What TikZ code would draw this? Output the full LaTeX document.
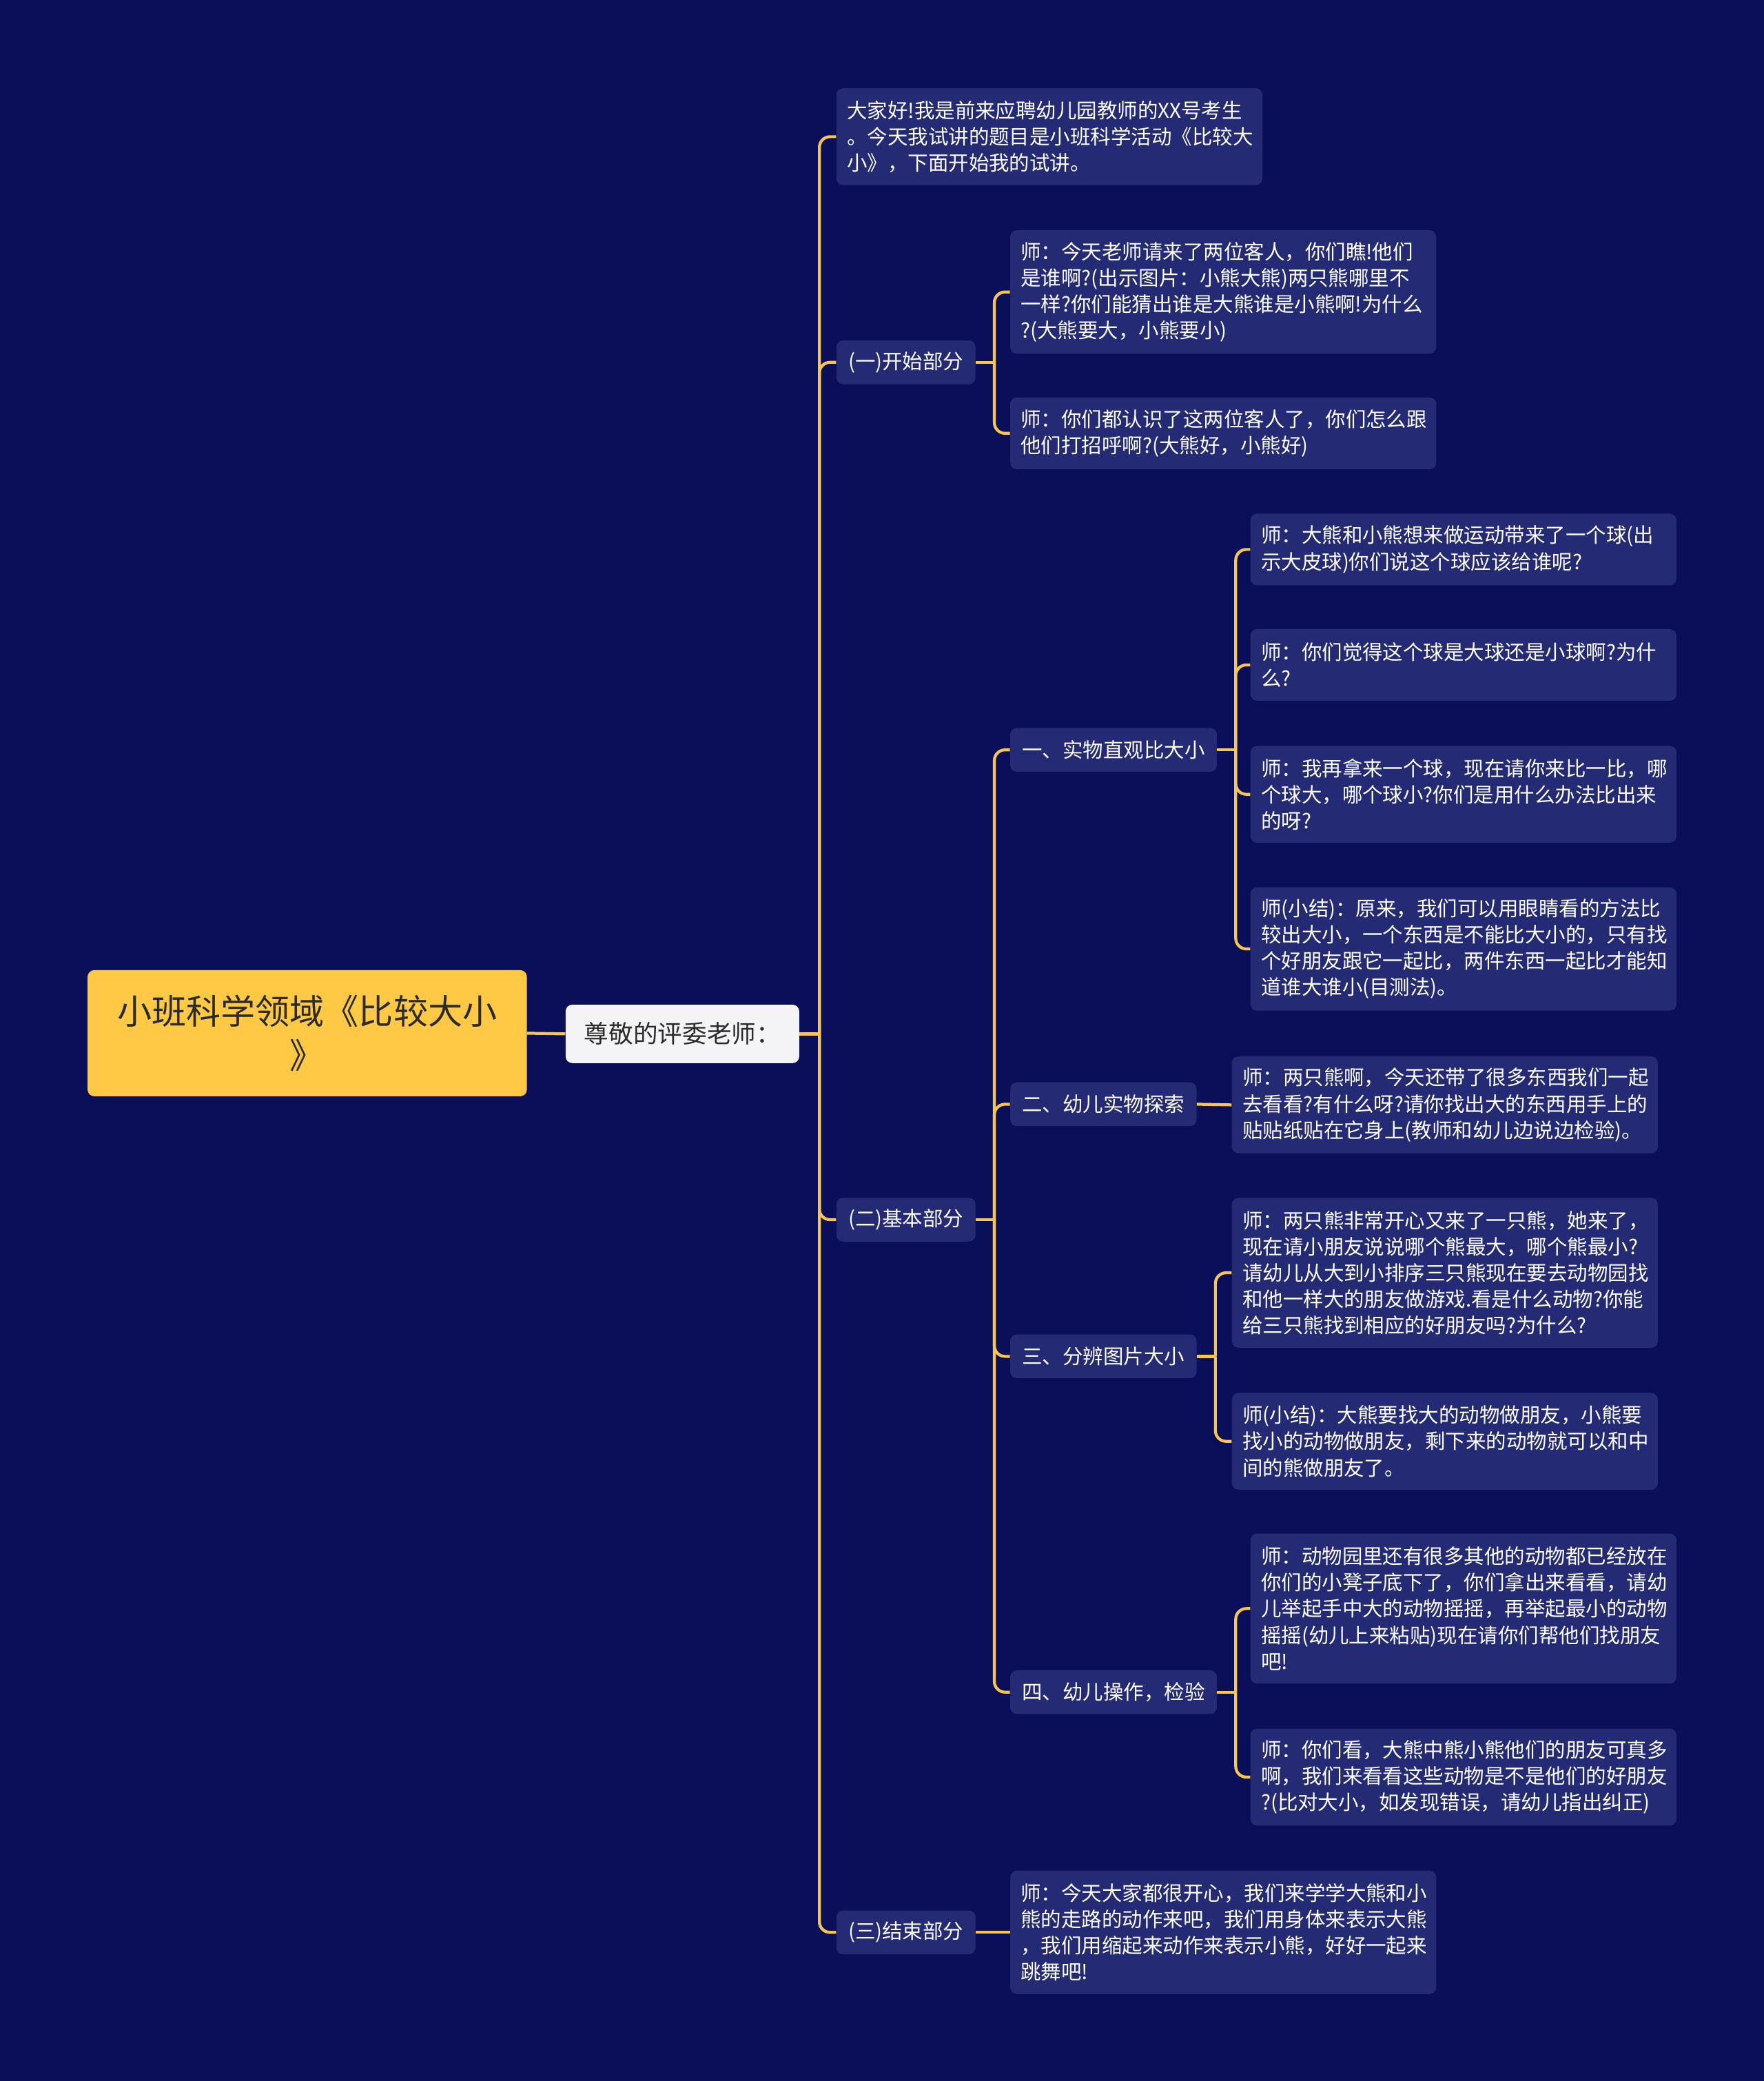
\documentclass[tikz,border=0pt]{standalone}
\usepackage{fontspec}
\setmainfont{Noto Sans CJK SC}
\definecolor{bg}{HTML}{0B0E58}
\definecolor{boxc}{HTML}{242A74}
\definecolor{lnc}{HTML}{F7C652}
\definecolor{rootc}{HTML}{FFC845}
\definecolor{lvc}{HTML}{F4F4F6}
\definecolor{darktext}{HTML}{2B2B2B}
\begin{document}
\begin{tikzpicture}[x=1pt,y=-1pt,
  conn/.style={draw=lnc, line width=2.2pt},
  elbowline/.style={draw=lnc, line width=2.2pt, rounded corners=8pt},
  leaf/.style={fill=boxc, rounded corners=5pt, text=white,
    font=\fontsize{15.3}{19.8}\selectfont, align=left,
    text width=305pt, inner xsep=8pt, inner ysep=0pt, anchor=west},
  lab/.style={fill=boxc, rounded corners=5pt, text=white,
    font=\fontsize{15.3}{20}\selectfont, inner xsep=9pt, inner ysep=0pt,
    minimum height=33pt, anchor=west},
  rootbox/.style={fill=rootc, rounded corners=5pt, text=darktext,
    font=\fontsize{26}{33}\selectfont, align=center,
    minimum width=331pt, minimum height=95pt, inner sep=0pt},
  lv1/.style={fill=lvc, rounded corners=5pt, text=darktext,
    font=\fontsize{18.5}{22}\selectfont, minimum width=176pt,
    minimum height=44pt, inner sep=0pt, anchor=west}
]
\fill[bg] (0,0) rectangle (1329,1568);
\useasboundingbox (0,0) rectangle (1329,1568);

% root and level 1
\node[rootbox] (root) at (231.5,778.5) {小班科学领域《比较大小\\》};
\node[lv1] (l1) at (426,779) {尊敬的评委老师：};

% level 2
\node[leaf, minimum height=73pt] (a) at (630,103) {大家好!我是前来应聘幼儿园教师的XX号考生\\。今天我试讲的题目是小班科学活动《比较大\\小》，下面开始我的试讲。};
\node[lab] (b) at (630,273) {(一)开始部分};
\node[lab] (c) at (630,919) {(二)基本部分};
\node[lab] (d) at (630,1456) {(三)结束部分};

% children of b
\node[leaf, minimum height=93pt] (b1) at (761,220) {师：今天老师请来了两位客人，你们瞧!他们\\是谁啊?(出示图片：小熊大熊)两只熊哪里不\\一样?你们能猜出谁是大熊谁是小熊啊!为什么\\?(大熊要大，小熊要小)};
\node[leaf, minimum height=54pt] (b2) at (761,326.5) {师：你们都认识了这两位客人了，你们怎么跟\\他们打招呼啊?(大熊好，小熊好)};

% children of c
\node[lab] (c1) at (761,565) {一、实物直观比大小};
\node[lab] (c2) at (761,832) {二、幼儿实物探索};
\node[lab] (c3) at (761,1022) {三、分辨图片大小};
\node[lab] (c4) at (761,1275) {四、幼儿操作，检验};

% children of c1
\node[leaf, minimum height=54pt] (c1a) at (942,414) {师：大熊和小熊想来做运动带来了一个球(出\\示大皮球)你们说这个球应该给谁呢?};
\node[leaf, minimum height=54pt] (c1b) at (942,501) {师：你们觉得这个球是大球还是小球啊?为什\\么?};
\node[leaf, minimum height=73pt] (c1c) at (942,598.5) {师：我再拿来一个球，现在请你来比一比，哪\\个球大，哪个球小?你们是用什么办法比出来\\的呀?};
\node[leaf, minimum height=93pt] (c1d) at (942,715) {师(小结)：原来，我们可以用眼睛看的方法比\\较出大小，一个东西是不能比大小的，只有找\\个好朋友跟它一起比，两件东西一起比才能知\\道谁大谁小(目测法)。};

% child of c2
\node[leaf, minimum height=73pt] (c2a) at (928,832.5) {师：两只熊啊，今天还带了很多东西我们一起\\去看看?有什么呀?请你找出大的东西用手上的\\贴贴纸贴在它身上(教师和幼儿边说边检验)。};

% children of c3
\node[leaf, minimum height=113pt] (c3a) at (928,959) {师：两只熊非常开心又来了一只熊，她来了，\\现在请小朋友说说哪个熊最大，哪个熊最小?\\请幼儿从大到小排序三只熊现在要去动物园找\\和他一样大的朋友做游戏.看是什么动物?你能\\给三只熊找到相应的好朋友吗?为什么?};
\node[leaf, minimum height=73pt] (c3b) at (928,1086) {师(小结)：大熊要找大的动物做朋友，小熊要\\找小的动物做朋友，剩下来的动物就可以和中\\间的熊做朋友了。};

% children of c4
\node[leaf, minimum height=113pt] (c4a) at (942,1212) {师：动物园里还有很多其他的动物都已经放在\\你们的小凳子底下了，你们拿出来看看，请幼\\儿举起手中大的动物摇摇，再举起最小的动物\\摇摇(幼儿上来粘贴)现在请你们帮他们找朋友\\吧!};
\node[leaf, minimum height=73pt] (c4b) at (942,1339) {师：你们看，大熊中熊小熊他们的朋友可真多\\啊，我们来看看这些动物是不是他们的好朋友\\?(比对大小，如发现错误，请幼儿指出纠正)};

% child of d
\node[leaf, minimum height=93pt] (d1) at (761,1456) {师：今天大家都很开心，我们来学学大熊和小\\熊的走路的动作来吧，我们用身体来表示大熊\\，我们用缩起来动作来表示小熊，好好一起来\\跳舞吧!};

% connectors
\draw[conn] (root.east) -- (l1.west);

\draw[conn] (l1.east) -- ++(15,0) coordinate (t0);
\foreach \ch in {a,b,c,d} \draw[elbowline] (t0) |- (\ch.west);

\draw[conn] (b.east) -- ++(14,0) coordinate (tb);
\foreach \ch in {b1,b2} \draw[elbowline] (tb) |- (\ch.west);

\draw[conn] (c.east) -- ++(14,0) coordinate (tc);
\foreach \ch in {c1,c2,c3,c4} \draw[elbowline] (tc) |- (\ch.west);

\draw[conn] (c1.east) -- ++(14,0) coordinate (tc1);
\foreach \ch in {c1a,c1b,c1c,c1d} \draw[elbowline] (tc1) |- (\ch.west);

\draw[conn] (c2.east) -- (c2a.west);

\draw[conn] (c3.east) -- ++(14,0) coordinate (tc3);
\foreach \ch in {c3a,c3b} \draw[elbowline] (tc3) |- (\ch.west);

\draw[conn] (c4.east) -- ++(14,0) coordinate (tc4);
\foreach \ch in {c4a,c4b} \draw[elbowline] (tc4) |- (\ch.west);

\draw[conn] (d.east) -- (d1.west);
\end{tikzpicture}
\end{document}
